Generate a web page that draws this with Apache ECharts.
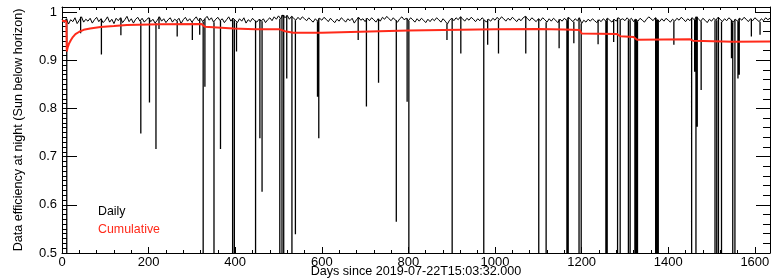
<!DOCTYPE html>
<html><head><meta charset="utf-8">
<script src="https://cdn.jsdelivr.net/npm/echarts@6/dist/echarts.min.js"></script>
<style>html,body{margin:0;padding:0;background:#fff}#c{width:771px;height:280px}</style>
</head><body><div id="c"></div>
<script>
// ---- data ----
const xTitle = 'Days since 2019-07-22T15:03:32.000';
const yTitle = 'Data efficiency at night (Sun below horizon)';
const legendLabels = ['Daily', 'Cumulative'];
const xTickLabels = [0, 200, 400, 600, 800, 1000, 1200, 1400, 1600];
const yTickLabels = [0.5, 0.6, 0.7, 0.8, 0.9, 1];
const dayRange = [0, 1635];
const effRange = [0.5, 1.0104];

// daily efficiency, typical nights, sampled every 5 days from day 0
const baselineStepDays = 5;
const dailyBaseline = [
0.985,0.978,0.986,0.975,0.984,0.980,0.988,0.976,0.983,0.990,0.979,0.985,0.981,0.987,0.977,0.984,0.989,0.980,0.986,0.978,
0.983,0.990,0.979,0.985,0.976,0.987,0.982,0.988,0.978,0.984,0.991,0.980,0.986,0.977,0.985,0.989,0.981,0.987,0.979,0.984,
0.988,0.980,0.985,0.977,0.983,0.990,0.981,0.986,0.978,0.984,0.988,0.979,0.985,0.982,0.987,0.976,0.984,0.989,0.981,0.986,
0.979,0.985,0.990,0.982,0.987,0.980,0.986,0.991,0.983,0.988,0.979,0.985,0.989,0.982,0.986,0.978,0.984,0.990,0.981,0.987,
0.983,0.978,0.986,0.981,0.988,0.977,0.984,0.980,0.987,0.982,0.979,0.985,0.981,0.986,0.978,0.984,0.988,0.982,0.990,0.985,
0.992,0.986,0.994,0.988,0.993,0.985,0.991,0.987,0.983,0.989,0.984,0.990,0.986,0.982,0.988,0.983,0.979,0.986,0.981,0.987,
0.983,0.989,0.985,0.980,0.987,0.982,0.978,0.985,0.981,0.988,0.984,0.979,0.986,0.982,0.987,0.977,0.984,0.989,0.983,0.986,
0.980,0.987,0.982,0.988,0.984,0.979,0.986,0.981,0.989,0.985,0.991,0.986,0.982,0.988,0.983,0.979,0.986,0.990,0.984,0.987,
0.982,0.988,0.984,0.979,0.986,0.981,0.987,0.983,0.978,0.985,0.980,0.986,0.982,0.988,0.984,0.979,0.986,0.981,0.975,0.983,
0.987,0.982,0.988,0.984,0.990,0.986,0.981,0.987,0.983,0.989,0.985,0.980,0.986,0.982,0.988,0.984,0.979,0.985,0.981,0.987,
0.983,0.989,0.984,0.990,0.986,0.981,0.987,0.983,0.989,0.985,0.980,0.986,0.982,0.988,0.991,0.986,0.982,0.988,0.984,0.980,
0.986,0.982,0.988,0.984,0.979,0.986,0.981,0.987,0.983,0.978,0.985,0.981,0.987,0.983,0.989,0.984,0.980,0.986,0.982,0.988,
0.976,0.983,0.979,0.985,0.981,0.986,0.982,0.978,0.984,0.980,0.986,0.982,0.987,0.983,0.979,0.985,0.981,0.988,0.984,0.986,
0.982,0.988,0.983,0.987,0.980,0.985,0.981,0.987,0.983,0.979,0.985,0.990,0.986,0.982,0.988,0.984,0.980,0.986,0.981,0.987,
0.983,0.979,0.985,0.981,0.987,0.983,0.989,0.985,0.980,0.986,0.982,0.988,0.984,0.990,0.985,0.981,0.987,0.983,0.978,0.985,
0.981,0.987,0.983,0.989,0.985,0.980,0.986,0.982,0.988,0.984,0.979,0.985,0.981,0.987,0.983,0.989,0.985,0.980,0.986,0.982,
0.988,0.984,0.980,0.986,0.982,0.988,0.984,0.987
];

// nights with reduced efficiency (day, value); values below 0.5 fall off the axis
const dipDays = [11,43,91,136,182,202,217,224,266,301,318,326,330,351,366,394,398,403,447,457,462,503,508,512,519,531,539,
  590,593,684,703,731,772,797,801,889,901,921,974,983,1008,1071,1101,1118,1148,1166,1169,1182,1194,1199,1238,1256,1259,
  1274,1283,1289,1308,1312,1323,1326,1329,1371,1374,1377,1413,1454,1461,1464,1467,1476,1508,1512,1516,1523,1546,1549,
  1554,1561,1564,1592,1612];
const dipValues = [0.20,0.956,0.912,0.952,0.748,0.812,0.716,0.965,0.949,0.942,0.953,0.30,0.845,0.30,0.716,0.30,0.30,0.918,0.30,0.738,0.627,0.30,0.30,0.30,0.862,0.30,0.539,
  0.824,0.738,0.942,0.804,0.853,0.565,0.814,0.30,0.942,0.30,0.914,0.30,0.932,0.914,0.914,0.30,0.30,0.925,0.30,0.30,0.935,0.30,0.30,0.933,0.30,0.30,
  0.938,0.30,0.30,0.30,0.30,0.30,0.30,0.30,0.30,0.30,0.30,0.932,0.30,0.876,0.30,0.762,0.838,0.30,0.30,0.30,0.30,0.904,0.30,
  0.30,0.862,0.870,0.949,0.953];

// cumulative efficiency
const cumDays = [0,10,11,13,16,20,25,31,40,50,65,89,120,150,227,322,330,396,446,503,515,534,600,800,1000,1100,1160,1196,1200,1281,1290,1320,1328,1450,1457,1550,1635];
const cumValues = [0.982,0.981,0.918,0.926,0.934,0.941,0.948,0.954,0.959,0.963,0.966,0.969,0.971,0.973,0.9745,0.975,0.9696,0.966,0.964,0.964,0.960,0.957,0.957,0.9615,0.964,0.9645,0.9635,0.9625,0.9555,0.9545,0.9495,0.948,0.9425,0.9435,0.9405,0.9385,0.939];

// ---- build series data ----
const dailyData = dailyBaseline.map((v, i) => [i * baselineStepDays, v]);
// each dip night drawn as a one-day drop from the neighbouring typical value
const dipData = [];
dipDays.forEach((d, i) => {
  const top = dailyBaseline[Math.min(dailyBaseline.length - 1, Math.round(d / baselineStepDays))];
  dipData.push([d, top], [d, dipValues[i]], '-');
});
const cumData = cumDays.map((d, i) => [d, cumValues[i]]);

const FONT = '"Liberation Sans", Arial, Helvetica, sans-serif';
const yFmt = v => { const r = Math.round(v * 10) / 10; return (Math.abs(v - r) < 1e-6 && yTickLabels.indexOf(r) >= 0) ? String(r) : ''; };
const xFmt = v => (xTickLabels.indexOf(v) >= 0 ? String(v) : '');

const axisLine = { show: true, onZero: false, lineStyle: { color: '#000', width: 1 } };

const chart = echarts.init(document.getElementById('c'), null, { renderer: 'canvas' });
chart.setOption({
  animation: false,
  backgroundColor: '#fff',
  grid: { left: 62, right: 1, top: 7, bottom: 27, containLabel: false, outerBoundsMode: 'none' },
  xAxis: [{
    type: 'value', position: 'bottom', min: dayRange[0], max: dayRange[1], interval: 200,
    axisLine: axisLine,
    axisTick: { show: true, inside: true, length: 6, lineStyle: { color: '#000' } },
    minorTick: { show: true, splitNumber: 5, length: 3, lineStyle: { color: '#000' } },
    splitLine: { show: false },
    axisLabel: { show: true, formatter: xFmt, color: '#000', fontFamily: FONT, fontSize: 13, margin: 3, showMaxLabel: true }
  }, {
    type: 'value', position: 'top', min: dayRange[0], max: dayRange[1], interval: 200,
    axisLine: axisLine,
    axisTick: { show: true, inside: true, length: 6, lineStyle: { color: '#000' } },
    minorTick: { show: true, splitNumber: 5, length: 3, lineStyle: { color: '#000' } },
    splitLine: { show: false }, axisLabel: { show: false }
  }],
  yAxis: [{
    type: 'value', position: 'left', min: effRange[0], max: effRange[1], interval: 0.1,
    axisLine: axisLine,
    axisTick: { show: true, inside: true, length: 15, lineStyle: { color: '#000' } },
    minorTick: { show: true, splitNumber: 10, length: 5, lineStyle: { color: '#000' } },
    splitLine: { show: false },
    axisLabel: { show: true, formatter: yFmt, color: '#000', fontFamily: FONT, fontSize: 13, margin: 5 },
    name: yTitle, nameLocation: 'middle', nameGap: 37,
    nameTextStyle: { color: '#000', fontFamily: FONT, fontSize: 12.6 }
  }, {
    type: 'value', position: 'right', min: effRange[0], max: effRange[1], interval: 0.1,
    axisLine: axisLine,
    axisTick: { show: true, inside: true, length: 14, lineStyle: { color: '#000' } },
    minorTick: { show: true, splitNumber: 5, length: 7, lineStyle: { color: '#000' } },
    splitLine: { show: false }, axisLabel: { show: false }
  }],
  series: [{
    name: legendLabels[0], type: 'line', xAxisIndex: 0, yAxisIndex: 0,
    data: dailyData, showSymbol: false, symbol: 'none', clip: true, silent: true,
    lineStyle: { color: '#000', width: 1 }
  }, {
    name: legendLabels[0] + ' dips', type: 'line', xAxisIndex: 0, yAxisIndex: 0,
    data: dipData, showSymbol: false, symbol: 'none', clip: true, silent: true, connectNulls: false,
    lineStyle: { color: '#000', width: 1.3 }
  }, {
    name: legendLabels[1], type: 'line', xAxisIndex: 0, yAxisIndex: 0,
    data: cumData, showSymbol: false, symbol: 'none', clip: true, silent: true,
    lineStyle: { color: '#ff2a1a', width: 2 }
  }],
  graphic: [
    { type: 'text', x: 416, y: 272, silent: true,
      style: { text: xTitle, fill: '#000', font: '12.6px ' + FONT, textAlign: 'center', textVerticalAlign: 'middle' } },
    { type: 'text', x: 98, y: 212, silent: true,
      style: { text: legendLabels[0], fill: '#000', font: '12.4px ' + FONT, textVerticalAlign: 'middle' } },
    { type: 'text', x: 98, y: 230, silent: true,
      style: { text: legendLabels[1], fill: '#ff2a1a', font: '12.4px ' + FONT, textVerticalAlign: 'middle' } }
  ]
});
</script></body></html>
